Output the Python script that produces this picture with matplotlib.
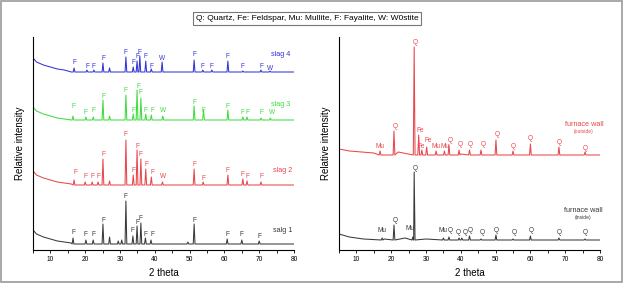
import numpy as np
import matplotlib
matplotlib.use("Agg")
import matplotlib.pyplot as plt
from matplotlib.patches import Rectangle
from matplotlib.ticker import MultipleLocator

plt.rcParams["font.family"] = ["Liberation Sans", "DejaVu Sans"]

# ---- data: heights in arbitrary intensity units (stacked, offset already applied)
# left panel, slags
slag1_base_x = [5, 6, 8, 10, 12, 14, 16, 80]
slag1_base_y = [20, 16, 13, 11, 9, 8, 7, 6]
slag1_pk_x = [16.5, 20.2, 22.3, 25.1, 27.0, 29.5, 30.5, 31.7, 33.7, 34.9, 36.0, 37.3, 38.9, 49.5, 51.3, 60.8, 65.0, 70.0]
slag1_pk_y = [12, 10, 10, 26, 13, 9, 10, 49, 14, 24, 27, 12, 10, 8, 26, 11, 10, 9]
slag1_lab = ["F", "F", "F", "F", "F", "F", "F", "F", "F", "F", "F", "F", "F", "F"]
slag1_lab_x = [16.5, 20.2, 22.5, 25.1, 31.7, 33.7, 34.9, 36.0, 37.4, 39.2, 51.3, 60.8, 65.0, 70.0]
slag1_lab_y = [18, 15, 16, 30, 54, 19, 28, 31, 16, 15, 30, 15, 15, 13]

slag2_base_x = [5, 6, 8, 10, 12, 14, 16, 80]
slag2_base_y = [79, 75, 72, 70, 68, 67, 66, 65]
slag2_pk_x = [16.8, 20.0, 22.0, 23.7, 25.1, 27.0, 31.7, 33.8, 34.9, 36.0, 37.4, 39.0, 42.2, 51.3, 53.9, 61.0, 65.3, 66.5, 70.5]
slag2_pk_y = [70, 68, 68, 68, 91, 69, 110, 75, 100, 91, 81, 73, 68, 81, 68, 75, 71, 69, 68]
slag2_lab = ["F", "F", "F", "F", "F", "F", "F", "F", "F", "F", "F", "W", "F", "F", "F", "F", "F", "F"]
slag2_lab_x = [17.1, 20.0, 22.0, 23.7, 25.1, 31.7, 33.8, 34.9, 36.0, 37.5, 39.2, 42.3, 51.5, 53.9, 61.0, 65.3, 66.5, 70.5]
slag2_lab_y = [77, 74, 74, 74, 95, 116, 80, 104, 95, 85, 78, 74, 85, 72, 80, 76, 74, 74]

slag3_base_x = [5, 6, 8, 10, 12, 14, 16, 80]
slag3_base_y = [143, 139, 136, 134, 132, 131, 130, 130]
slag3_pk_x = [16.5, 20.2, 22.3, 25.1, 27.0, 31.7, 33.8, 34.9, 36.0, 37.4, 39.0, 42.3, 51.3, 54.0, 61.0, 65.3, 66.5, 70.5, 73.2]
slag3_pk_y = [134, 133, 133, 150, 134, 155, 136, 160, 152, 136, 135, 134, 144, 140, 140, 133, 133, 132, 132]
slag3_lab = ["F", "F", "F", "F", "F", "F", "F", "F", "F", "F", "W", "F", "F", "F", "F", "F", "F", "W"]
slag3_lab_x = [16.5, 20.2, 22.5, 25.1, 31.7, 33.8, 35.2, 36.0, 37.4, 39.2, 42.3, 51.3, 54.1, 61.0, 65.2, 66.6, 70.5, 73.6]
slag3_lab_y = [143, 138, 139, 154, 160, 140, 164, 157, 140, 140, 140, 147, 140, 143, 137, 137, 137, 137]

slag4_base_x = [5, 6, 8, 10, 12, 14, 16, 80]
slag4_base_y = [192, 188, 185, 183, 181, 180, 178, 178]
slag4_pk_x = [16.8, 20.5, 22.5, 25.1, 27.0, 31.7, 33.8, 34.9, 35.7, 37.4, 39.0, 42.1, 51.3, 53.8, 56.4, 61.0, 65.3, 70.5, 73.1]
slag4_pk_y = [182, 180, 180, 187, 182, 193, 183, 189, 194, 189, 181, 188, 190, 180, 180, 189, 179, 180, 179]
slag4_lab = ["F", "F", "F", "F", "F", "F", "F", "F", "F", "F", "W", "F", "F", "F", "F", "F", "F", "W"]
slag4_lab_x = [16.8, 20.5, 22.5, 25.1, 31.7, 33.8, 34.9, 35.7, 37.4, 38.9, 42.1, 51.3, 53.8, 56.4, 61.0, 65.3, 70.5, 73.1]
slag4_lab_y = [187, 184, 184, 191, 197, 187, 193, 198, 193, 184, 192, 195, 184, 184, 193, 184, 183, 181]

# right panel, furnace wall
inside_base_x = [5, 8, 12, 18, 24, 30, 40, 80]
inside_base_y = [16, 13, 11, 11, 12, 11, 10, 10]
inside_pk_x = [17.4, 20.8, 26.2, 26.6, 35.0, 36.6, 39.5, 40.3, 42.5, 45.8, 50.1, 55.0, 60.0, 68.2, 75.7]
inside_pk_y = [12, 25, 13, 78, 12, 13, 12, 12, 14, 11, 15, 11, 14, 12, 11]
inside_lab = ["Mu", "Q", "Mu", "Q", "Mu", "Q", "Q", "Q", "Q", "Q", "Q", "Q", "Q", "Q", "Q"]
inside_lab_x = [17.4, 21.1, 25.4, 26.8, 34.9, 36.9, 39.2, 41.2, 42.7, 46.1, 50.1, 55.3, 60.2, 68.2, 75.7]
inside_lab_y = [19, 29, 21, 82, 19, 19, 17, 17, 20, 17, 20, 17, 19, 17, 17]

outside_base_x = [5, 8, 15, 22, 30, 40, 80]
outside_base_y = [101, 99, 97, 98, 98, 96, 95]
outside_pk_x = [16.8, 20.8, 26.6, 27.9, 28.8, 30.2, 32.9, 35.3, 36.6, 39.5, 42.5, 45.8, 50.1, 55.0, 60.0, 68.2, 75.7]
outside_pk_y = [99, 119, 203, 115, 100, 103, 99, 99, 105, 100, 100, 100, 110, 99, 106, 103, 98]
outside_lab = ["Mu", "Q", "Q", "Fe", "Fe", "Fe", "Mu", "Mu", "Q", "Q", "Q", "Q", "Q", "Q", "Q", "Q", "Q"]
outside_lab_x = [16.8, 21.1, 26.8, 28.3, 28.6, 30.6, 32.9, 35.5, 36.9, 39.8, 42.6, 46.4, 50.4, 55.0, 59.9, 68.2, 75.7]
outside_lab_y = [104, 124, 208, 120, 103, 110, 103, 103, 110, 105, 105, 105, 115, 103, 111, 108, 102]

BLACK = "#3a3a3a"
RED = "#e8474c"
GREEN = "#3fdc3f"
BLUE = "#3434d8"
LAB_SIZE = 4.7


def build_trace(base_x, base_y, pk_x, pk_y):
    # sharp peaks sitting on the flat part of the background
    flat = base_y[-1]
    xs = list(base_x)
    ys = list(base_y)
    for px, py in zip(pk_x, pk_y):
        foot = np.interp(px, base_x, base_y) if px < 16 else flat
        xs += [px - 0.25, px, px + 0.25]
        ys += [foot, py, foot]
    order = np.argsort(xs, kind="stable")
    return np.array(xs)[order], np.array(ys)[order]


def draw(ax, base_x, base_y, pk_x, pk_y, labs, lab_x, lab_y, color):
    x, y = build_trace(base_x, base_y, pk_x, pk_y)
    ax.plot(x, y, color=color, lw=0.75)
    for t, lx, ly in zip(labs, lab_x, lab_y):
        ax.text(lx, ly, t, color=color, fontsize=LAB_SIZE, ha="center", va="center")


def style(ax):
    ax.set_xlim(5, 80)
    ax.set_ylim(0, 213)
    ax.spines["top"].set_visible(False)
    ax.spines["right"].set_visible(False)
    ax.spines["left"].set_linewidth(0.8)
    ax.spines["bottom"].set_linewidth(0.8)
    ax.set_yticks([])
    ax.xaxis.set_major_locator(MultipleLocator(10))
    ax.xaxis.set_minor_locator(MultipleLocator(5))
    ax.set_xticks(range(10, 81, 10))
    ax.tick_params(axis="x", which="both", direction="out", length=2.5, width=0.6, labelsize=4.8, pad=1.5)
    ax.set_xlabel("2 theta", fontsize=7, labelpad=4)
    ax.set_ylabel("Relative intensity", fontsize=7, labelpad=6)


fig = plt.figure(figsize=(6.24, 2.84), dpi=100)
ax1 = fig.add_axes([33 / 624, 34 / 284, 261 / 624, 213 / 284])
ax2 = fig.add_axes([339 / 624, 34 / 284, 261 / 624, 213 / 284])

draw(ax1, slag1_base_x, slag1_base_y, slag1_pk_x, slag1_pk_y, slag1_lab, slag1_lab_x, slag1_lab_y, BLACK)
draw(ax1, slag2_base_x, slag2_base_y, slag2_pk_x, slag2_pk_y, slag2_lab, slag2_lab_x, slag2_lab_y, RED)
draw(ax1, slag3_base_x, slag3_base_y, slag3_pk_x, slag3_pk_y, slag3_lab, slag3_lab_x, slag3_lab_y, GREEN)
draw(ax1, slag4_base_x, slag4_base_y, slag4_pk_x, slag4_pk_y, slag4_lab, slag4_lab_x, slag4_lab_y, BLUE)
ax1.text(79, 196, "slag 4", color=BLUE, fontsize=5.2, ha="right", va="center")
ax1.text(79, 146, "slag 3", color=GREEN, fontsize=5.2, ha="right", va="center")
ax1.text(79.5, 79, "slag 2", color=RED, fontsize=5.2, ha="right", va="center")
ax1.text(79.5, 19, "salg 1", color=BLACK, fontsize=5.2, ha="right", va="center")
style(ax1)

draw(ax2, inside_base_x, inside_base_y, inside_pk_x, inside_pk_y, inside_lab, inside_lab_x, inside_lab_y, BLACK)
draw(ax2, outside_base_x, outside_base_y, outside_pk_x, outside_pk_y, outside_lab, outside_lab_x, outside_lab_y, RED)
ax2.text(75.4, 125, "furnace wall", color=RED, fontsize=5.2, ha="center", va="center")
ax2.text(75.4, 118, "(outside)", color=RED, fontsize=3.6, ha="center", va="center")
ax2.text(75.1, 39, "furnace wall", color=BLACK, fontsize=5.2, ha="center", va="center")
ax2.text(75.1, 32, "(inside)", color=BLACK, fontsize=3.6, ha="center", va="center")
style(ax2)

# legend box at top
fig.text(307 / 624, 1 - 18.5 / 284, "Q: Quartz, Fe: Feldspar, Mu: Mullite, F: Fayalite, W: W0stite",
         fontsize=6, ha="center", va="center",
         bbox=dict(boxstyle="square,pad=0.35", fc="white", ec="#777777", lw=0.8))

# outer frame
fig.patches.append(Rectangle((1 / 624, 2 / 284), 621 / 624, 281 / 284, transform=fig.transFigure,
                             fill=False, ec="#9a9a9a", lw=1.2))

fig.savefig("out.png", dpi=100)
